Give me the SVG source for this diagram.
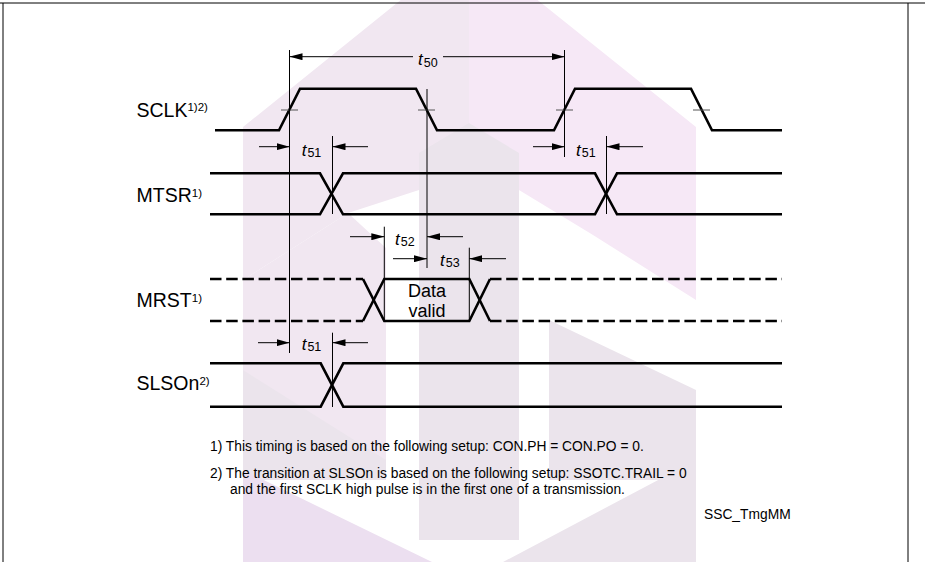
<svg xmlns="http://www.w3.org/2000/svg" width="925" height="562" viewBox="0 0 925 562">
<defs>
<style>
.sig{fill:none;stroke:#000;stroke-width:2.6;stroke-linejoin:miter}
.dash{fill:none;stroke:#000;stroke-width:2.6;stroke-dasharray:11.5 4.7}
.thin{fill:none;stroke:#000;stroke-width:1}
.tick{fill:none;stroke:#555;stroke-width:1}
.arr{fill:none;stroke:#000;stroke-width:1;marker-end:url(#ah)}
.lbl{font-family:"Liberation Sans",Arial,sans-serif;font-size:19.5px;fill:#000}
.sup{font-size:11.5px}
.tt{font-family:"Liberation Sans",Arial,sans-serif;font-size:17px;font-style:italic;fill:#000}
.sub{font-size:12.5px;font-style:normal}
.note{font-family:"Liberation Sans",Arial,sans-serif;font-size:13.8px;fill:#000}
.dv{font-family:"Liberation Sans",Arial,sans-serif;font-size:18px;fill:#000;text-anchor:middle}
.wp{fill:#f6e8f6}
.wq{fill:#f1e7f1}
.wg{fill:#ebe4ec}
.wl{fill:#ecdff0}
</style>
<marker id="ah" markerUnits="userSpaceOnUse" markerWidth="13" markerHeight="7" refX="13" refY="3.5" orient="auto">
<path d="M0,0 L13,3.5 L0,7 Z" fill="#000"/>
</marker>
</defs>
<rect width="925" height="562" fill="#fff"/>
<g id="watermark">
<polygon class="wq" points="243,127 469,-55 469,160 419,190 348,213 243,280"/>
<polygon class="wp" points="469,-55 696,127 696,300 593,235 519,190 469,160"/>
<polygon class="wq" points="243,280 348,213 386,248 386,480 243,480"/>
<polygon class="wg" points="243,370 386,460 386,480 243,480"/>
<polygon class="wg" points="419,153 469,123 519,153 519,540 419,540"/>
<polygon class="wg" points="549,320 696,390 696,480 549,480"/>
<polygon class="wl" points="243,470 469,580 469,562 243,562"/>
<polygon class="wg" points="469,580 696,460 696,562 469,562"/>
</g>
<g id="frame">
<line class="thin" x1="0" y1="3" x2="925" y2="3" stroke-width="1.5"/>
<line class="thin" x1="3" y1="3" x2="3" y2="562" stroke-width="1.5"/>
<line class="thin" x1="908" y1="3" x2="908" y2="562" stroke-width="1.5"/>
</g>
<g id="labels">
<text class="lbl" x="136.5" y="116.7">SCLK<tspan class="sup" dy="-6">1)2)</tspan></text>
<text class="lbl" x="136.5" y="201.7">MTSR<tspan class="sup" dy="-5">1)</tspan></text>
<text class="lbl" x="136.5" y="306.7">MRST<tspan class="sup" dy="-5">1)</tspan></text>
<text class="lbl" x="136.5" y="390">SLSOn<tspan class="sup" dy="-5">2)</tspan></text>
</g>
<g id="signals">
<g id="sclk">
<path class="sig" d="M215,130.3 H279 L300,88.7 H416 L437,130.3 H554 L575,88.7 H691 L712,130.3 H782"/>
<path class="tick" d="M281,110 H298 M418,110 H435 M556,110 H573 M693,110 H710"/>
</g>
<g id="mtsr">
<path class="sig" d="M210,173.3 H320 L343,214.3 H595 L617,173.3 H782"/>
<path class="sig" d="M210,214.3 H320 L343,173.3 H595 L617,214.3 H782"/>
</g>
<g id="mrst">
<path class="dash" d="M210,279 H363"/>
<path class="dash" d="M210,321 H363"/>
<path class="sig" d="M363,279 L384.3,321 H469.3 L490,279"/>
<path class="sig" d="M363,321 L384.3,279 H469.3 L490,321"/>
<path class="dash" d="M490,279 H782"/>
<path class="dash" d="M490,321 H782"/>
<text class="dv" x="427" y="296.7">Data</text>
<text class="dv" x="427" y="316.7">valid</text>
</g>
<g id="slso">
<path class="sig" d="M210,363.3 H320.7 L343.3,406.7 H782"/>
<path class="sig" d="M210,406.7 H320.7 L343.3,363.3 H782"/>
</g>
</g>
<g id="connectors">
<line class="thin" x1="289.5" y1="50" x2="289.5" y2="353"/>
<line class="thin" x1="564.5" y1="50" x2="564.5" y2="157"/>
<line class="thin" x1="427" y1="89" x2="427" y2="268"/>
<line class="thin" x1="332.5" y1="136" x2="332.5" y2="214"/>
<line class="thin" x1="606.5" y1="136" x2="606.5" y2="214"/>
<line class="thin" x1="384.3" y1="226.7" x2="384.3" y2="321"/>
<line class="thin" x1="469.3" y1="247.7" x2="469.3" y2="321"/>
<line class="thin" x1="332.5" y1="332.7" x2="332.5" y2="407"/>
<line class="arr" x1="413" y1="56.7" x2="289.5" y2="56.7"/>
<line class="arr" x1="443" y1="56.7" x2="564.5" y2="56.7"/>
<line class="arr" x1="259" y1="146.7" x2="289.5" y2="146.7"/>
<line class="arr" x1="368" y1="146.7" x2="332.5" y2="146.7"/>
<line class="arr" x1="533" y1="146.7" x2="564.5" y2="146.7"/>
<line class="arr" x1="643" y1="146.7" x2="606.5" y2="146.7"/>
<line class="arr" x1="350" y1="236.7" x2="384.3" y2="236.7"/>
<line class="arr" x1="463" y1="236.7" x2="427" y2="236.7"/>
<line class="arr" x1="393" y1="258.7" x2="427" y2="258.7"/>
<line class="arr" x1="506" y1="258.7" x2="469.3" y2="258.7"/>
<line class="arr" x1="258" y1="342.7" x2="289.5" y2="342.7"/>
<line class="arr" x1="368" y1="342.7" x2="332.5" y2="342.7"/>
</g>
<g id="timing-labels">
<text class="tt" x="418" y="65">t<tspan class="sub" dx="1" dy="2">50</tspan></text>
<text class="tt" x="301.7" y="156">t<tspan class="sub" dx="1" dy="1">51</tspan></text>
<text class="tt" x="576" y="156">t<tspan class="sub" dx="1" dy="1">51</tspan></text>
<text class="tt" x="395" y="245">t<tspan class="sub" dx="1" dy="1">52</tspan></text>
<text class="tt" x="440" y="266">t<tspan class="sub" dx="1" dy="1">53</tspan></text>
<text class="tt" x="301.7" y="350">t<tspan class="sub" dx="1" dy="1">51</tspan></text>
</g>
<g id="notes">
<text class="note" x="210" y="451">1) This timing is based on the following setup: CON.PH = CON.PO = 0.</text>
<text class="note" x="210" y="478">2) The transition at SLSOn is based on the following setup: SSOTC.TRAIL = 0</text>
<text class="note" x="230" y="494">and the first SCLK high pulse is in the first one of a transmission.</text>
<text class="note" x="704" y="519">SSC_TmgMM</text>
</g>
</svg>
